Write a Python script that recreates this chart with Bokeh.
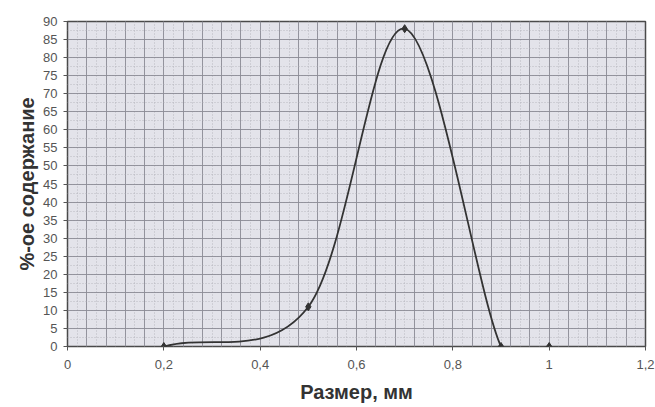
from bokeh.plotting import figure
from bokeh.models import FixedTicker, Range1d
from bokeh.embed import file_html
from bokeh.resources import INLINE

# Data
size_mm = [0.2, 0.5, 0.7, 0.9, 1.0]
content_pct = [0, 11, 88, 0, 0]

x_ticks = [0, 0.2, 0.4, 0.6, 0.8, 1.0, 1.2]
x_tick_labels = ["0", "0,2", "0,4", "0,6", "0,8", "1", "1,2"]
y_ticks = list(range(0, 95, 5))

# Smoothed-line control points (Excel-style) derived from the data
n = len(size_mm)
x0, y0, x1, y1, cx0, cy0, cx1, cy1 = [], [], [], [], [], [], [], []
for i in range(n - 1):
    ax, ay = size_mm[i], content_pct[i]
    bx, by = size_mm[i + 1], content_pct[i + 1]
    if i == 0:
        c0x, c0y = ax + (bx - ax) / 3, ay + (by - ay) / 3
    else:
        c0x = ax + (bx - size_mm[i - 1]) / 6
        c0y = ay + (by - content_pct[i - 1]) / 6
    if i + 2 >= n:
        c1x, c1y = bx - (bx - ax) / 3, by - (by - ay) / 3
    else:
        c1x = bx - (size_mm[i + 2] - ax) / 6
        c1y = by - (content_pct[i + 2] - ay) / 6
    x0.append(ax); y0.append(ay); x1.append(bx); y1.append(by)
    cx0.append(c0x); cy0.append(c0y); cx1.append(c1x); cy1.append(c1y)

p = figure(width=655, height=407, output_backend="svg", toolbar_location=None,
           x_range=Range1d(0, 1.2), y_range=Range1d(0, 90),
           min_border_left=67, min_border_right=10, min_border_top=21, min_border_bottom=61)

p.background_fill_color = "#e3e3ea"
p.border_fill_color = "white"
p.outline_line_color = "#4a4a4a"
p.outline_line_width = 1.5

# ticks
p.xaxis.ticker = FixedTicker(ticks=x_ticks, minor_ticks=[i * 0.04 for i in range(31)])
p.xaxis.major_label_overrides = {t: l for t, l in zip(x_ticks, x_tick_labels)}
p.yaxis.ticker = FixedTicker(ticks=y_ticks, minor_ticks=[i * 2.5 for i in range(37)])

# grids
p.xgrid.ticker = FixedTicker(ticks=[i * 0.04 for i in range(31)], minor_ticks=[i * 0.02 for i in range(61)])
p.ygrid.ticker = FixedTicker(ticks=y_ticks, minor_ticks=[i * 2.5 for i in range(37)])
for g in (p.xgrid, p.ygrid):
    g.grid_line_color = "#8c8c96"
    g.grid_line_width = 1
    g.grid_line_alpha = 0.9
    g.minor_grid_line_color = "#b0b0b8"
    g.minor_grid_line_dash = "1 2"
    g.minor_grid_line_alpha = 0.8

for ax in (p.xaxis, p.yaxis):
    ax.axis_line_color = None
    ax.major_tick_line_color = "#555555"
    ax.major_tick_out = 4
    ax.major_tick_in = 0
    ax.minor_tick_line_color = None
    ax.major_label_text_font = "Liberation Sans"
    ax.major_label_text_font_size = "13px"
    ax.major_label_text_color = "#555555"
    ax.axis_label_text_font = "Liberation Sans"
    ax.axis_label_text_font_size = "20px"
    ax.axis_label_text_font_style = "bold"
    ax.axis_label_text_color = "#333333"

p.xaxis.major_label_standoff = 9
p.xaxis.axis_label_standoff = 9
p.yaxis.major_label_standoff = 6
p.yaxis.axis_label_standoff = 2
p.xaxis.axis_label = "Размер, мм"
p.yaxis.axis_label = "%-ое содержание"

p.bezier(x0=x0, y0=y0, x1=x1, y1=y1, cx0=cx0, cy0=cy0, cx1=cx1, cy1=cy1,
         line_color="#333333", line_width=1.8)
p.scatter(size_mm, content_pct, marker="diamond", size=8, color="#333333")

open("out.html", "w").write(file_html(p, INLINE))
